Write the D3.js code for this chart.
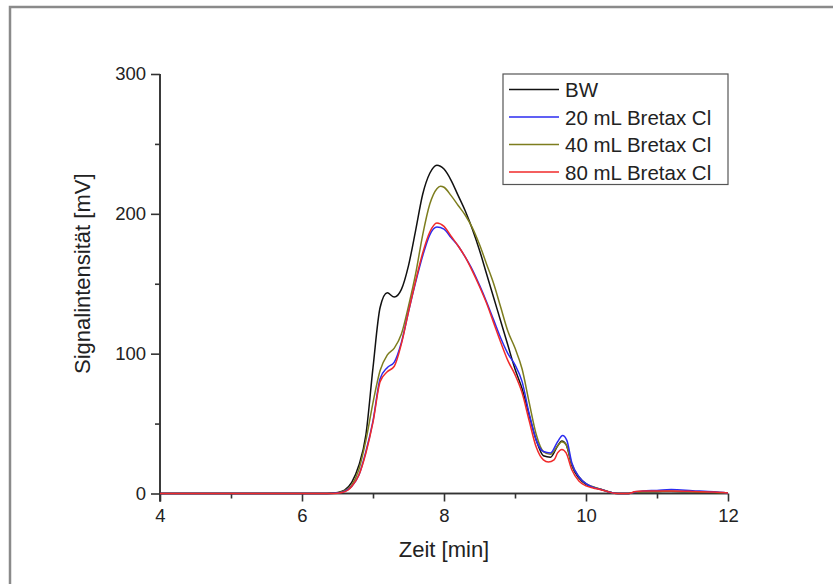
<!DOCTYPE html>
<html>
<head>
<meta charset="utf-8">
<script src="https://cdn.jsdelivr.net/npm/d3@7"></script>
<style>
  html, body { margin: 0; padding: 0; background: #fff; }
  svg { display: block; }
  text { font-family: "Liberation Sans", Arial, sans-serif; fill: #222; }
</style>
</head>
<body>
<svg id="chart" width="833" height="584"></svg>
<script>
// Chromatogram: retention time (min) vs. signal intensity (mV)
const seriesNames = ["BW", "20 mL Bretax Cl", "40 mL Bretax Cl", "80 mL Bretax Cl"];
const seriesColors = ["#111111", "#2b2bf0", "#7d7d1e", "#f02a2a"];

const timeBW = [4, 6.3, 6.4, 6.5, 6.6, 6.7, 6.8, 6.9, 7.0, 7.1, 7.2, 7.3, 7.4, 7.5, 7.6, 7.7, 7.8, 7.9, 8.0, 8.1, 8.2, 8.3, 8.4, 8.5, 8.6, 8.7, 8.8, 8.9, 9.0, 9.1, 9.2, 9.3, 9.4, 9.5, 9.6, 9.66, 9.72, 9.8, 9.9, 10.0, 10.1, 10.2, 10.3, 10.4, 10.5, 10.6, 10.7, 10.8, 11.0, 11.2, 11.5, 11.8, 12];
const signalBW = [0, 0, 0.2, 0.8, 2.5, 8, 20, 42, 90, 133, 143.5, 140.5, 146, 163, 188, 214, 229, 234.8, 232, 224, 213, 202, 189, 174, 157, 140, 123, 106, 89, 75, 56, 38, 27, 26, 34, 37.5, 35, 20, 11, 6.5, 4.5, 3, 1.5, 0.2, 0, 0, 1, 1.2, 1.3, 1.5, 1.2, 0.8, 0.3];

const time20 = [4, 6.4, 6.5, 6.6, 6.7, 6.8, 6.9, 7.0, 7.1, 7.2, 7.3, 7.4, 7.5, 7.6, 7.7, 7.8, 7.9, 8.0, 8.1, 8.2, 8.3, 8.4, 8.5, 8.6, 8.7, 8.8, 8.9, 9.0, 9.1, 9.2, 9.3, 9.4, 9.5, 9.6, 9.67, 9.73, 9.8, 9.9, 10.0, 10.1, 10.2, 10.3, 10.4, 10.5, 10.6, 10.7, 10.8, 11.0, 11.2, 11.5, 11.8, 12];
const signal20 = [0, 0, 0.3, 1.5, 5, 13, 30, 52, 82, 90, 94, 108, 130, 151, 170, 185, 190.5, 189, 183, 177, 169, 160, 149, 137, 124, 111, 100, 92, 80, 57, 38, 30, 29, 37, 41.5, 38, 22, 12, 7, 4.5, 3, 1.5, 0.2, 0, 0, 1.2, 1.8, 2.2, 2.8, 2, 1.2, 0.4];

const time40 = [4, 6.4, 6.5, 6.6, 6.7, 6.8, 6.9, 7.0, 7.1, 7.2, 7.3, 7.4, 7.5, 7.6, 7.7, 7.8, 7.9, 7.95, 8.0, 8.1, 8.2, 8.3, 8.4, 8.5, 8.6, 8.7, 8.8, 8.9, 9.0, 9.1, 9.2, 9.3, 9.4, 9.5, 9.6, 9.66, 9.72, 9.8, 9.9, 10.0, 10.1, 10.2, 10.3, 10.4, 10.5, 10.6, 10.7, 10.8, 11.0, 11.2, 11.5, 11.8, 12];
const signal40 = [0, 0, 0.5, 2, 6, 17, 38, 65, 88, 99, 104, 114, 134, 157, 185, 207, 218, 219.8, 219, 213, 206, 199, 190, 178, 164, 150, 133, 116, 104, 89, 65, 42, 30, 28, 34, 37, 35, 21, 12, 7, 4.8, 3.2, 1.6, 0.2, 0, 0, 1, 1.3, 1.5, 1.6, 1.2, 0.8, 0.3];

const time80 = [4, 6.45, 6.55, 6.65, 6.7, 6.8, 6.9, 7.0, 7.1, 7.2, 7.3, 7.4, 7.5, 7.6, 7.7, 7.8, 7.9, 8.0, 8.1, 8.2, 8.3, 8.4, 8.5, 8.6, 8.7, 8.8, 8.9, 9.0, 9.1, 9.2, 9.3, 9.4, 9.47, 9.55, 9.6, 9.66, 9.72, 9.8, 9.9, 10.0, 10.1, 10.2, 10.3, 10.4, 10.5, 10.6, 10.7, 10.8, 11.0, 11.2, 11.5, 11.8, 12];
const signal80 = [0, 0, 0.5, 2.5, 5, 13, 29, 51, 80, 87, 91, 107, 130, 152, 172, 187, 193.5, 191, 184, 177, 169, 159, 148, 136, 122, 108, 95, 85, 72, 52, 33, 24, 22.5, 24, 29, 31.5, 29, 17, 9, 5.5, 4, 2.8, 1.4, 0.2, 0, 0, 1.5, 1.7, 1.8, 1.8, 1.5, 1, 0.4];

const xTicks = [4, 6, 8, 10, 12];
const xMinorTicks = [5, 7, 9, 11];
const yTicks = [0, 100, 200, 300];
const yMinorTicks = [50, 150, 250];

const svg = d3.select("#chart");

// outer frame (only top and left edges fall inside the canvas)
svg.append("rect")
  .attr("x", 10).attr("y", 7)
  .attr("width", 900).attr("height", 700)
  .attr("fill", "none").attr("stroke", "#8a8a8a").attr("stroke-width", 2.5);

const x = d3.scaleLinear().domain([4, 12]).range([160, 728]);
const y = d3.scaleLinear().domain([0, 300]).range([493.5, 74]);

const axisColor = "#333";

// x axis
const gx = svg.append("g").attr("transform", `translate(0,${y(0)})`);
gx.call(d3.axisBottom(x).tickValues(xTicks).tickSize(8).tickPadding(7).tickFormat(d3.format("d")));
gx.append("g").call(d3.axisBottom(x).tickValues(xMinorTicks).tickSize(5).tickFormat(""));
gx.selectAll(".domain").attr("stroke", axisColor).attr("stroke-width", 1.6);
gx.selectAll(".tick line").attr("stroke", axisColor).attr("stroke-width", 1.6);
gx.selectAll(".tick text").attr("font-size", 18.5).attr("fill", "#222")
  .style("font-family", "'Liberation Sans', Arial, sans-serif");

// y axis
const gy = svg.append("g").attr("transform", `translate(${x(4)},0)`);
gy.call(d3.axisLeft(y).tickValues(yTicks).tickSize(9).tickPadding(5).tickFormat(d3.format("d")));
gy.append("g").call(d3.axisLeft(y).tickValues(yMinorTicks).tickSize(5).tickFormat(""));
gy.selectAll(".domain").attr("stroke", axisColor).attr("stroke-width", 1.6);
gy.selectAll(".tick line").attr("stroke", axisColor).attr("stroke-width", 1.6);
gy.selectAll(".tick text").attr("font-size", 18.5).attr("fill", "#222")
  .style("font-family", "'Liberation Sans', Arial, sans-serif");
// plain axis lines without the outer end ticks
gx.selectAll(".domain").attr("d", `M${x(4)},0H${x(12)}`);
gy.selectAll(".domain").attr("d", `M0,${y(300)}V${y(0) + 8}`);

// axis titles
svg.append("text")
  .attr("x", x(8)).attr("y", 557)
  .attr("text-anchor", "middle").attr("font-size", 22)
  .text("Zeit [min]");
svg.append("text")
  .attr("transform", `translate(90,${(y(0) + y(300)) / 2 - 10}) rotate(-90)`)
  .attr("text-anchor", "middle").attr("font-size", 22)
  .text("Signalintensität [mV]");

// traces
const traces = [
  { t: timeBW, s: signalBW },
  { t: time20, s: signal20 },
  { t: time40, s: signal40 },
  { t: time80, s: signal80 }
];
const line = d3.line()
  .x(d => x(d[0]))
  .y(d => y(d[1]))
  .curve(d3.curveMonotoneX);

// draw BW first, then 40, 20, 80 so overlaps stack as in the plot
[0, 2, 1, 3].forEach(i => {
  const pts = traces[i].t.map((tv, k) => [tv, traces[i].s[k]]);
  svg.append("path")
    .datum(pts)
    .attr("d", line)
    .attr("fill", "none")
    .attr("stroke", seriesColors[i])
    .attr("stroke-width", 1.5)
    .attr("stroke-linejoin", "round");
});

// legend
const lg = svg.append("g");
lg.append("rect")
  .attr("x", 503).attr("y", 74)
  .attr("width", 225).attr("height", 110.5)
  .attr("fill", "#fff").attr("stroke", "#555").attr("stroke-width", 1.2);
seriesNames.forEach((name, i) => {
  const cy = 89.5 + i * 27.5;
  lg.append("line")
    .attr("x1", 509).attr("x2", 559)
    .attr("y1", cy).attr("y2", cy)
    .attr("stroke", seriesColors[i]).attr("stroke-width", 1.5);
  lg.append("text")
    .attr("x", 565).attr("y", cy + 7.5)
    .attr("font-size", 20.5)
    .text(name);
});
</script>
</body>
</html>
